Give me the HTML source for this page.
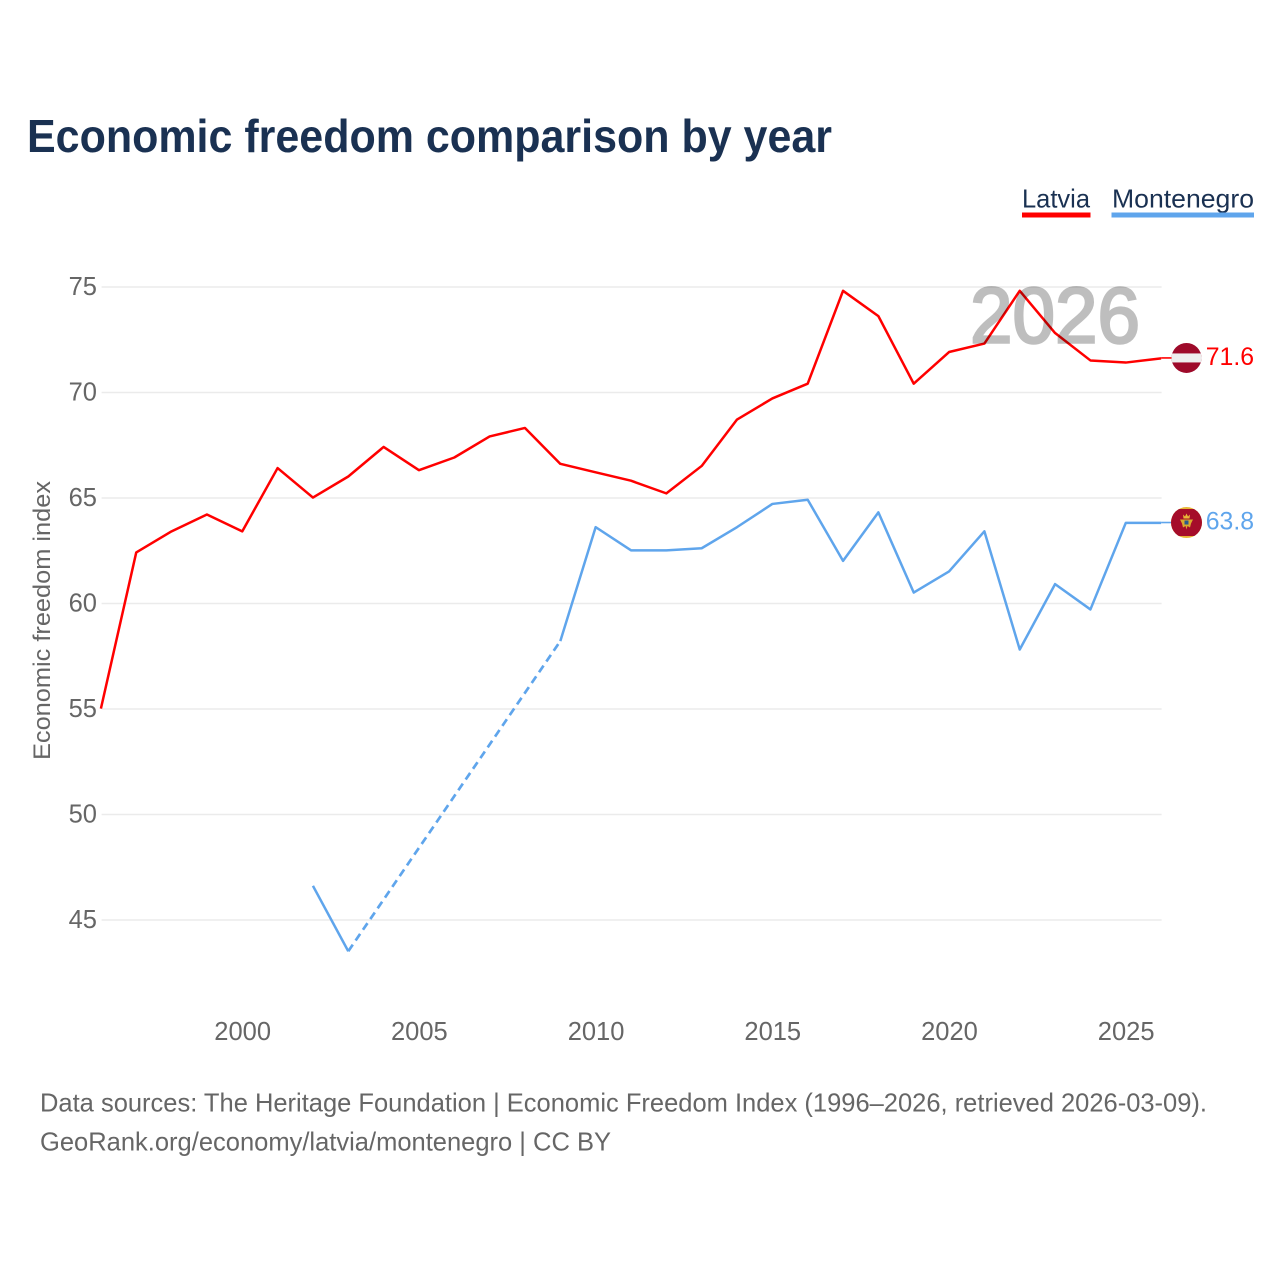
<!DOCTYPE html>
<html lang="en">
<head>
<meta charset="utf-8">
<title>Economic freedom comparison by year</title>
<style>
html,body{margin:0;padding:0;background:#fff;width:1280px;height:1280px;overflow:hidden}
svg{display:block}
text{font-family:"Liberation Sans",sans-serif}
</style>
</head>
<body>
<svg id="chart" xmlns="http://www.w3.org/2000/svg" width="1280" height="1280" viewBox="0 0 1280 1280">
  <text x="27" y="152" font-size="46" font-weight="700" fill="#1a3152" textLength="805" lengthAdjust="spacingAndGlyphs">Economic freedom comparison by year</text>
  <g>
    <text x="1022" y="207.5" font-size="26" fill="#1a3152" textLength="68" lengthAdjust="spacingAndGlyphs">Latvia</text>
    <rect x="1022" y="212.5" width="68.5" height="5" fill="#ff0000"/>
  </g>
  <g>
    <text x="1112" y="207.5" font-size="26" fill="#1a3152" textLength="142" lengthAdjust="spacingAndGlyphs">Montenegro</text>
    <rect x="1111.5" y="212.5" width="142.5" height="5" fill="#5fa5ec"/>
  </g>
  <g id="grid"></g>
  <g id="yticks"></g>
  <g id="xticks"></g>
  <text transform="translate(50,620.5) rotate(-90)" text-anchor="middle" font-size="24" fill="#666666" textLength="279" lengthAdjust="spacingAndGlyphs">Economic freedom index</text>
  <g id="series"></g>
  <text x="970" y="342.5" font-size="79" font-weight="400" fill="#000000" stroke="#000000" stroke-width="2.5" opacity="0.25" textLength="170" lengthAdjust="spacingAndGlyphs">2026</text>
  <g id="ends"></g>
  <text x="40" y="1111.5" font-size="26" fill="#666666" textLength="1167" lengthAdjust="spacingAndGlyphs">Data sources: The Heritage Foundation | Economic Freedom Index (1996–2026, retrieved 2026-03-09).</text>
  <text x="40" y="1150.5" font-size="26" fill="#666666" textLength="571" lengthAdjust="spacingAndGlyphs">GeoRank.org/economy/latvia/montenegro | CC BY</text>
</svg>
<script>
const years = [1996,1997,1998,1999,2000,2001,2002,2003,2004,2005,2006,2007,2008,2009,2010,2011,2012,2013,2014,2015,2016,2017,2018,2019,2020,2021,2022,2023,2024,2025,2026];
const latviaValues = [55.0,62.4,63.4,64.2,63.4,66.4,65.0,66.0,67.4,66.3,66.9,67.9,68.3,66.6,66.2,65.8,65.2,66.5,68.7,69.7,70.4,74.8,73.6,70.4,71.9,72.3,74.8,72.8,71.5,71.4,71.6];
const montenegroValues = [null,null,null,null,null,null,46.6,43.5,null,null,null,null,null,58.2,63.6,62.5,62.5,62.6,63.6,64.7,64.9,62.0,64.3,60.5,61.5,63.4,57.8,60.9,59.7,63.8,63.8];
const yTickValues = [45,50,55,60,65,70,75];
const xTickValues = [2000,2005,2010,2015,2020,2025];

const NS = 'http://www.w3.org/2000/svg';
const RED = '#ff0000';
const BLUE = '#5fa5ec';
function xScale(year){ return 100.9 + (year - 1996) * 35.34; }
function yScale(value){ return 286.6 + (75 - value) * 21.1; }
function make(tag, attrs, parent){
  const el = document.createElementNS(NS, tag);
  for (const key in attrs) el.setAttribute(key, attrs[key]);
  parent.appendChild(el);
  return el;
}
function pathOf(points){
  return points.map((p, i) => (i ? 'L' : 'M') + xScale(p[0]).toFixed(2) + ' ' + yScale(p[1]).toFixed(2)).join(' ');
}

const grid = document.getElementById('grid');
const yticks = document.getElementById('yticks');
yTickValues.forEach(v => {
  const line = make('line', {x1: 101.6, x2: 1161.6, y1: yScale(v) + 0.4, y2: yScale(v) + 0.4, stroke: '#ebebeb', 'stroke-width': 1.5}, grid);
  
  
  const label = make('text', {x: 97, y: yScale(v) + 8.4, 'text-anchor': 'end', 'font-size': 25.5, fill: '#666666'}, yticks);
  label.textContent = v;
  
  
});

const xticks = document.getElementById('xticks');
xTickValues.forEach(v => {
  const label = make('text', {x: xScale(v) + 0.4, y: 1040, 'text-anchor': 'middle', 'font-size': 25.5, fill: '#666666'}, xticks);
  label.textContent = v;
  
  
});

const seriesGroup = document.getElementById('series');
function drawSeries(name, values, color){
  let run = [];
  let last = null;
  let gapFrom = null;
  function flush(){
    if (run.length > 1) {
      const solid = make('path', {d: pathOf(run), fill: 'none', stroke: color, 'stroke-width': 2.5, 'stroke-linejoin': 'round'}, seriesGroup);
      
      
    }
    run = [];
  }
  values.forEach((v, i) => {
    if (v === null) {
      if (last !== null && gapFrom === null) { gapFrom = last; flush(); }
      return;
    }
    const pt = [years[i], v];
    if (gapFrom !== null) {
      const dashed = make('path', {d: pathOf([gapFrom, pt]), fill: 'none', stroke: color, 'stroke-width': 2.7, 'stroke-dasharray': '8 5'}, seriesGroup);
      
      
      gapFrom = null;
    }
    run.push(pt);
    last = pt;
  });
  flush();
}
drawSeries('latvia', latviaValues, RED);
drawSeries('montenegro', montenegroValues, BLUE);

const ends = document.getElementById('ends');
function drawEnd(name, value, color, printed){
  const y = yScale(value) - 0.4;
  const lastX = xScale(years[years.length - 1]);
  const link = make('line', {x1: lastX, x2: 1172, y1: y, y2: y, stroke: color, 'stroke-width': 1.6}, ends);
  
  
  const flag = make('g', {transform: 'translate(1186.5,' + y + ')'}, ends);
  
  
  const label = make('text', {x: 1254, y: y + 7, 'text-anchor': 'end', 'font-size': 24.8, fill: color}, ends);
  label.textContent = printed;
  
  
  return flag;
}
const latviaFlag = drawEnd('latvia', latviaValues[latviaValues.length - 1], RED, '71.6');
make('circle', {r: 15, fill: '#9e0a2a'}, latviaFlag);
const bandClip = make('clipPath', {id: 'lvclip'}, latviaFlag);
make('circle', {r: 15}, bandClip);
make('rect', {x: -15, y: -4.5, width: 30, height: 9, fill: '#eeeeee', 'clip-path': 'url(#lvclip)'}, latviaFlag);

const montenegroFlag = drawEnd('montenegro', montenegroValues[montenegroValues.length - 1], BLUE, '63.8');
make('circle', {r: 15.5, fill: '#e8b838'}, montenegroFlag);
const meClip = make('clipPath', {id: 'meclip'}, montenegroFlag);
make('circle', {r: 15.5}, meClip);
make('rect', {x: -16, y: -13.5, width: 32, height: 27, fill: '#a50c2a', 'clip-path': 'url(#meclip)'}, montenegroFlag);
make('polygon', {points: '-3.5,-8 -1.5,-6 0,-9 1.5,-6 3.5,-8 3,-4 -3,-4', fill: '#e8b838'}, montenegroFlag);
make('polygon', {points: '-6.5,-3 6.5,-3 4.5,1 3.5,5 1,3.5 0,7 -1,3.5 -3.5,5 -4.5,1', fill: '#d9a92e'}, montenegroFlag);
make('rect', {x: -2, y: -2, width: 4, height: 4, fill: '#2a5a8c'}, montenegroFlag);
</script>
</body>
</html>
